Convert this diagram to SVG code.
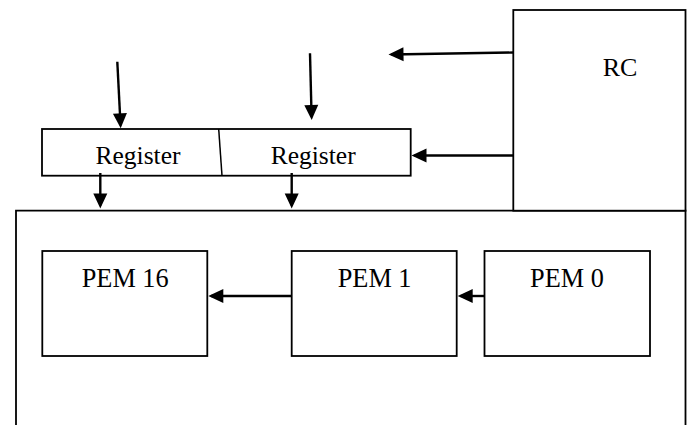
<svg xmlns="http://www.w3.org/2000/svg" width="692" height="425" viewBox="0 0 692 425">
<style>
.box{fill:#fff;stroke:#000;stroke-width:1.8}
.wire{fill:none;stroke:#000;stroke-width:2.4}
text{font-family:'Liberation Serif','Times New Roman',Times,serif;fill:#000}
</style>
<defs>
<marker id="ah" markerUnits="userSpaceOnUse" markerWidth="15" markerHeight="14" refX="12" refY="7" orient="auto" overflow="visible">
<path d="M0,0 L15,7 L0,14 Z" fill="#000"/>
</marker>
</defs>
<rect width="692" height="425" fill="#fff"/>
<g id="pe-array">
<path class="box" d="M16,430 V210.7 H685.5 V430" fill="none"/>
</g>
<g id="rc">
<rect class="box" x="513.3" y="10" width="172.2" height="200.7"/>
<text x="602.7" y="76" font-size="26" font-family="Liberation Serif, serif">RC</text>
</g>
<g id="registers">
<rect class="box" x="42" y="129" width="368.7" height="46.7"/>
<line x1="218.7" y1="129" x2="222" y2="175.7" stroke="#000" stroke-width="1.5"/>
<text x="95.5" y="164" font-size="25.5" font-family="Liberation Serif, serif">Register</text>
<text x="270.7" y="164" font-size="25.5" font-family="Liberation Serif, serif">Register</text>
</g>
<g id="pem16">
<rect class="box" x="42.3" y="251" width="165" height="105"/>
<text x="81.7" y="286.7" font-size="26.3" font-family="Liberation Serif, serif">PEM 16</text>
</g>
<g id="pem1">
<rect class="box" x="291.7" y="251" width="165" height="105"/>
<text x="337.7" y="287" font-size="26.3" font-family="Liberation Serif, serif">PEM 1</text>
</g>
<g id="pem0">
<rect class="box" x="484.5" y="251" width="165.5" height="105"/>
<text x="530" y="286.7" font-size="26.3" font-family="Liberation Serif, serif">PEM 0</text>
</g>
<g id="connectors">
<line class="wire" x1="117.3" y1="61.7" x2="120.55" y2="125.3" marker-end="url(#ah)"/>
<line class="wire" x1="310" y1="53.3" x2="311.6" y2="117" marker-end="url(#ah)"/>
<line class="wire" x1="513.3" y1="52.5" x2="391.5" y2="54.45" marker-end="url(#ah)"/>
<line class="wire" x1="513.3" y1="155.5" x2="414.5" y2="155.5" marker-end="url(#ah)"/>
<line class="wire" x1="100.3" y1="173" x2="100.3" y2="205.5" marker-end="url(#ah)"/>
<line class="wire" x1="291.7" y1="173" x2="291.7" y2="205.5" marker-end="url(#ah)"/>
<line class="wire" x1="291.7" y1="296" x2="211.3" y2="296" marker-end="url(#ah)"/>
<line class="wire" x1="484.5" y1="296" x2="460.7" y2="296" marker-end="url(#ah)"/>
</g>
</svg>
